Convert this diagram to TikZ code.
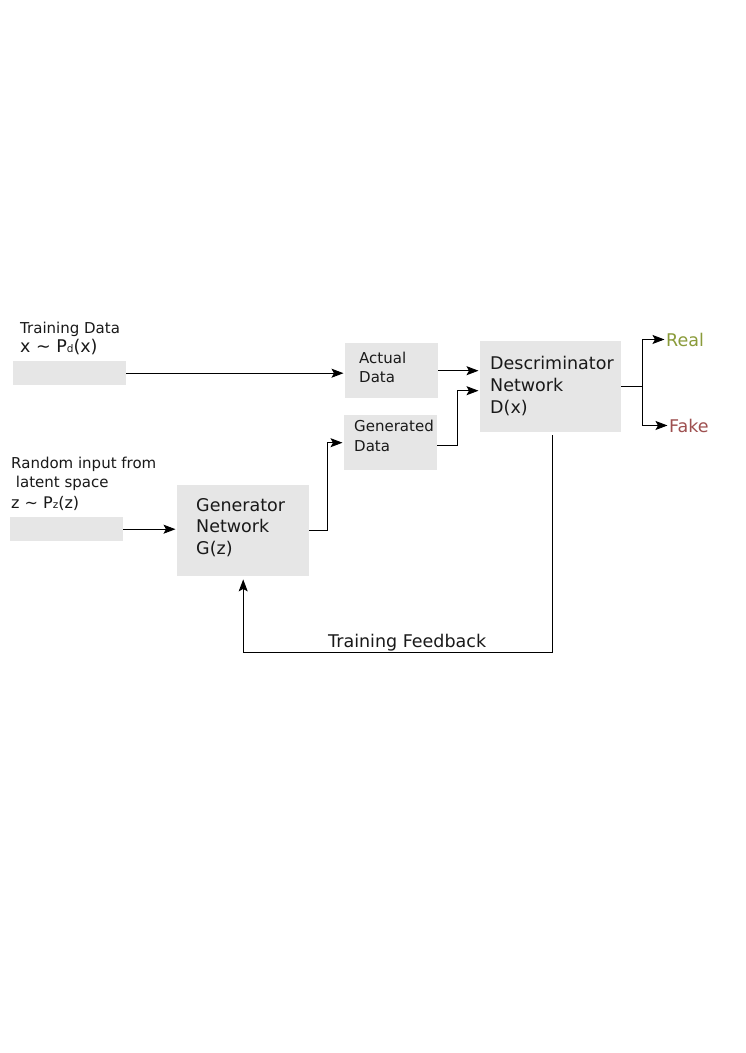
\documentclass[tikz,border=0pt]{standalone}
\usepackage{fontspec}
\setmainfont{DejaVu Sans}
\usetikzlibrary{arrows.meta,positioning}
\definecolor{boxgray}{RGB}{230,230,230}
\definecolor{realgreen}{RGB}{138,155,58}
\definecolor{fakered}{RGB}{158,80,80}
\newcommand{\bigtxt}{\fontsize{17.5}{22}\selectfont}
\newcommand{\smalltxt}{\fontsize{15}{20}\selectfont}
\newcommand{\subtxt}[1]{{\fontsize{10.5}{10}\selectfont #1}}
\begin{document}
\begin{tikzpicture}[x=1pt,y=-1pt,
	box/.style={fill=boxgray,inner sep=0pt,anchor=north west},
	txt/.style={anchor=base west,inner sep=0pt,align=left,text=black!90},
	arr/.style={-{Stealth[length=12pt,width=9pt,inset=2.5pt]},line width=0.9pt,shorten >=1.5pt}]
		\fill[white] (0,0) rectangle (745,1053);
		\useasboundingbox (0,0) rectangle (745,1053);
		\node[box,minimum width=113,minimum height=24] (train) at (13,361) {};
		\node[box,minimum width=113,minimum height=24] (rand) at (10,517) {};
		\node[box,minimum width=132,minimum height=91] (gen) at (177,485) {};
		\node[box,minimum width=93,minimum height=55] (act) at (345,343) {};
		\node[box,minimum width=93,minimum height=55] (gend) at (344,415) {};
		\node[box,minimum width=141,minimum height=91] (disc) at (480,341) {};
		\node[txt,font=\smalltxt] (traintxt) at (20,352) {Training Data\\[-1pt]{\bigtxt x \textasciitilde{} P\subtxt{d}(x)}};
		\node[txt,font=\smalltxt] (randtxt) at (11,508) {Random input from\\[-1pt]\ latent space\\[1pt]{\fontsize{16}{20}\selectfont z \textasciitilde{} P\subtxt{z}(z)}};
		\node[txt,font=\bigtxt] (gentxt) at (196,554) {Generator\\[-0.5pt]Network\\[-0.5pt]G(z)};
		\node[txt,font=\smalltxt] (acttxt) at (359,382) {Actual\\[-1pt]Data};
		\node[txt,font=\smalltxt] (gendtxt) at (354,451) {Generated\\Data};
		\node[txt,font=\bigtxt] (disctxt) at (490,413) {Descriminator\\Network\\D(x)};
		\node[txt,font=\bigtxt,text=realgreen] (real) at (666,346) {Real};
		\node[txt,font=\bigtxt,text=fakered] (fake) at (669,432) {Fake};
		\node[txt,font=\bigtxt] (fb) at (328,647) {Training Feedback};
		\draw[arr] (train.east) -- (act.west |- train.east);
		\draw[arr] (rand.east) -- (gen.west |- rand.east);
		\draw[arr] (gen.east) -- ++(18,0) |- (gend.west);
		\draw[arr] (act.east) -- (disc.west |- act.east);
		\draw[arr] ([yshift=-2.5pt]gend.east) -- ++(20,0) |- ([yshift=-4pt]disc.west);
		\draw[line width=0.9pt] (disc.east) -- ++(21,0) coordinate (split);
		\draw[arr] (split) |- (real.west);
		\draw[arr] (split) |- (fake.west);
		\draw[arr,shorten <=3pt,shorten >=3pt] ([xshift=1.5pt]disc.south) -- ++(0,220) -| (gen.south);
		\end{tikzpicture}
\end{document}
